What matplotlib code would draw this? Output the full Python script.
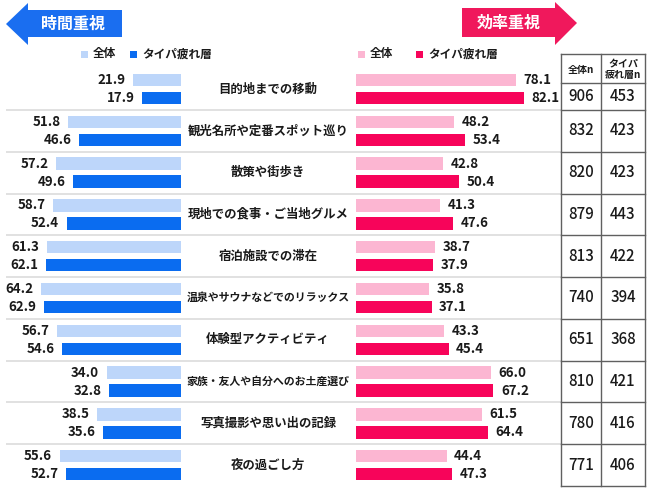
import matplotlib
matplotlib.use("Agg")
import matplotlib.pyplot as plt
from matplotlib.patches import Polygon, Rectangle

plt.rcParams['font.family'] = ['Noto Sans CJK JP', 'DejaVu Sans']

# ---------------- data ----------------
categories = ['目的地までの移動', '観光名所や定番スポット巡り', '散策や街歩き',
              '現地での食事・ご当地グルメ', '宿泊施設での滞在',
              '温泉やサウナなどでのリラックス', '体験型アクティビティ',
              '家族・友人や自分へのお土産選び', '写真撮影や思い出の記録', '夜の過ごし方']
time_all = [21.9, 51.8, 57.2, 58.7, 61.3, 64.2, 56.7, 34.0, 38.5, 55.6]
time_taipa = [17.9, 46.6, 49.6, 52.4, 62.1, 62.9, 54.6, 32.8, 35.6, 52.7]
eff_all = [78.1, 48.2, 42.8, 41.3, 38.7, 35.8, 43.3, 66.0, 61.5, 44.4]
eff_taipa = [82.1, 53.4, 50.4, 47.6, 37.9, 37.1, 45.4, 67.2, 64.4, 47.3]
n_all = [906, 832, 820, 879, 813, 740, 651, 810, 780, 771]
n_taipa = [453, 423, 423, 443, 422, 394, 368, 421, 416, 406]
header_left = '時間重視'
header_right = '効率重視'
legend_labels = ['全体', 'タイパ疲れ層']
table_headers = ['全体n', 'タイパ\n疲れ層n']

# ---------------- style ----------------
C_LB = '#bdd6fa'
C_DB = '#0a6cf0'
C_LP = '#fcb6d2'
C_DP = '#f7045a'
C_ARROW_B = '#1a6ef0'
C_ARROW_P = '#f0185c'
C_SEP = '#dedede'
C_TAB = '#606060'
C_TXT = '#1a1a1a'

W, H = 650, 488
fig = plt.figure(figsize=(W / 100, H / 100), dpi=100)

n = len(categories)
pitch = 41.8
c0 = 89.0
top = c0 - pitch / 2
bot = c0 + pitch * (n - 0.5)

def yc(i):
    return c0 + pitch * i

# background axes in pixel space
bg = fig.add_axes([0, 0, 1, 1])
bg.set_xlim(0, W)
bg.set_ylim(H, 0)
bg.axis('off')

scale_l = 2.18  # px per percentage point
scale_r = 2.05
lx1 = 181.0
rx0 = 355.5
rx1 = 560.0
ax_l = fig.add_axes([0, 1 - bot / H, lx1 / W, (bot - top) / H], zorder=3)
ax_r = fig.add_axes([rx0 / W, 1 - bot / H, (rx1 - rx0) / W, (bot - top) / H], zorder=3)
for ax in (ax_l, ax_r):
    ax.set_ylim(n - 0.5, -0.5)
    ax.axis('off')
    ax.patch.set_alpha(0)
ax_l.set_xlim(lx1 / scale_l, 0)
ax_r.set_xlim(0, (rx1 - rx0) / scale_r)

bh = 0.30
off = 0.215
ys = list(range(n))
ax_l.barh([y - off for y in ys], time_all, height=bh, color=C_LB)
ax_l.barh([y + off for y in ys], time_taipa, height=bh, color=C_DB)
ax_r.barh([y - off for y in ys], eff_all, height=bh, color=C_LP)
ax_r.barh([y + off for y in ys], eff_taipa, height=bh, color=C_DP)

vfs = 9.6
gap = 5.5
for i in ys:
    ax_l.annotate(f'{time_all[i]:.1f}', (time_all[i], i - off), xytext=(-gap, 0),
                  textcoords='offset points', ha='right', va='center',
                  fontsize=vfs, fontweight='bold', color=C_TXT)
    ax_l.annotate(f'{time_taipa[i]:.1f}', (time_taipa[i], i + off), xytext=(-gap, 0),
                  textcoords='offset points', ha='right', va='center',
                  fontsize=vfs, fontweight='bold', color=C_TXT)
    ax_r.annotate(f'{eff_all[i]:.1f}', (eff_all[i], i - off), xytext=(gap, 0),
                  textcoords='offset points', ha='left', va='center',
                  fontsize=vfs, fontweight='bold', color=C_TXT)
    ax_r.annotate(f'{eff_taipa[i]:.1f}', (eff_taipa[i], i + off), xytext=(gap, 0),
                  textcoords='offset points', ha='left', va='center',
                  fontsize=vfs, fontweight='bold', color=C_TXT)

# category labels
for i, c in enumerate(categories):
    px = min(12.4, 164.0 / len(c))
    bg.text(268, yc(i), c, ha='center', va='center', fontsize=px * 0.72,
            fontweight='bold', color=C_TXT)

# row separators
for i in range(n - 1):
    y = yc(i) + pitch / 2
    bg.plot([6, 561], [y, y], color=C_SEP, lw=1.3, zorder=1, solid_capstyle='butt')

# header arrows
bg.add_patch(Polygon([(6, 24), (28, 3), (28, 10), (122, 10), (122, 37), (28, 37), (28, 45)],
                     closed=True, color=C_ARROW_B, lw=0))
bg.text(73, 23.5, header_left, ha='center', va='center', color='white',
        fontsize=11.5, fontweight='bold')
bg.add_patch(Polygon([(577, 23), (555, 2), (555, 8), (462, 8), (462, 37), (555, 37), (555, 45)],
                     closed=True, color=C_ARROW_P, lw=0))
bg.text(509, 23, header_right, ha='center', va='center', color='white',
        fontsize=11.5, fontweight='bold')

# legends
ly = 54
for x0, col, lab in [(81, C_LB, legend_labels[0]), (130, C_DB, legend_labels[1]),
                     (358, C_LP, legend_labels[0]), (416, C_DP, legend_labels[1])]:
    bg.add_patch(Rectangle((x0, ly - 3.5), 7, 7, color=col, lw=0))
    bg.text(x0 + 12, ly, lab, ha='left', va='center', fontsize=8.4,
            fontweight='bold', color=C_TXT)

# table
tx = [561, 601, 645]
ttop = 54
thead = 83.3
for x in tx:
    bg.plot([x, x], [ttop, bot], color=C_TAB, lw=1.0)
bg.plot([tx[0], tx[2]], [ttop, ttop], color=C_TAB, lw=1.0)
bg.plot([tx[0], tx[2]], [thead, thead], color=C_TAB, lw=1.0)
for i in range(n):
    y = yc(i) + pitch / 2
    bg.plot([tx[0], tx[2]], [y, y], color=C_TAB, lw=1.0)
bg.text((tx[0] + tx[1]) / 2, (ttop + thead) / 2 + 1, table_headers[0], ha='center',
        va='center', fontsize=7.2, fontweight='bold', color=C_TXT)
bg.text((tx[1] + tx[2]) / 2, (ttop + thead) / 2 + 1, table_headers[1], ha='center',
        va='center', fontsize=7.2, fontweight='bold', color=C_TXT, linespacing=1.1)
for i in range(n):
    y_top_cell = thead if i == 0 else yc(i) - pitch / 2
    y_bot_cell = yc(i) + pitch / 2
    ym = (y_top_cell + y_bot_cell) / 2
    bg.text((tx[0] + tx[1]) / 2, ym, str(n_all[i]), ha='center', va='center',
            fontsize=10.8, fontweight='medium', color=C_TXT)
    bg.text((tx[1] + tx[2]) / 2, ym, str(n_taipa[i]), ha='center', va='center',
            fontsize=10.8, fontweight='medium', color=C_TXT)

fig.savefig('out.png', dpi=100, facecolor='white')
